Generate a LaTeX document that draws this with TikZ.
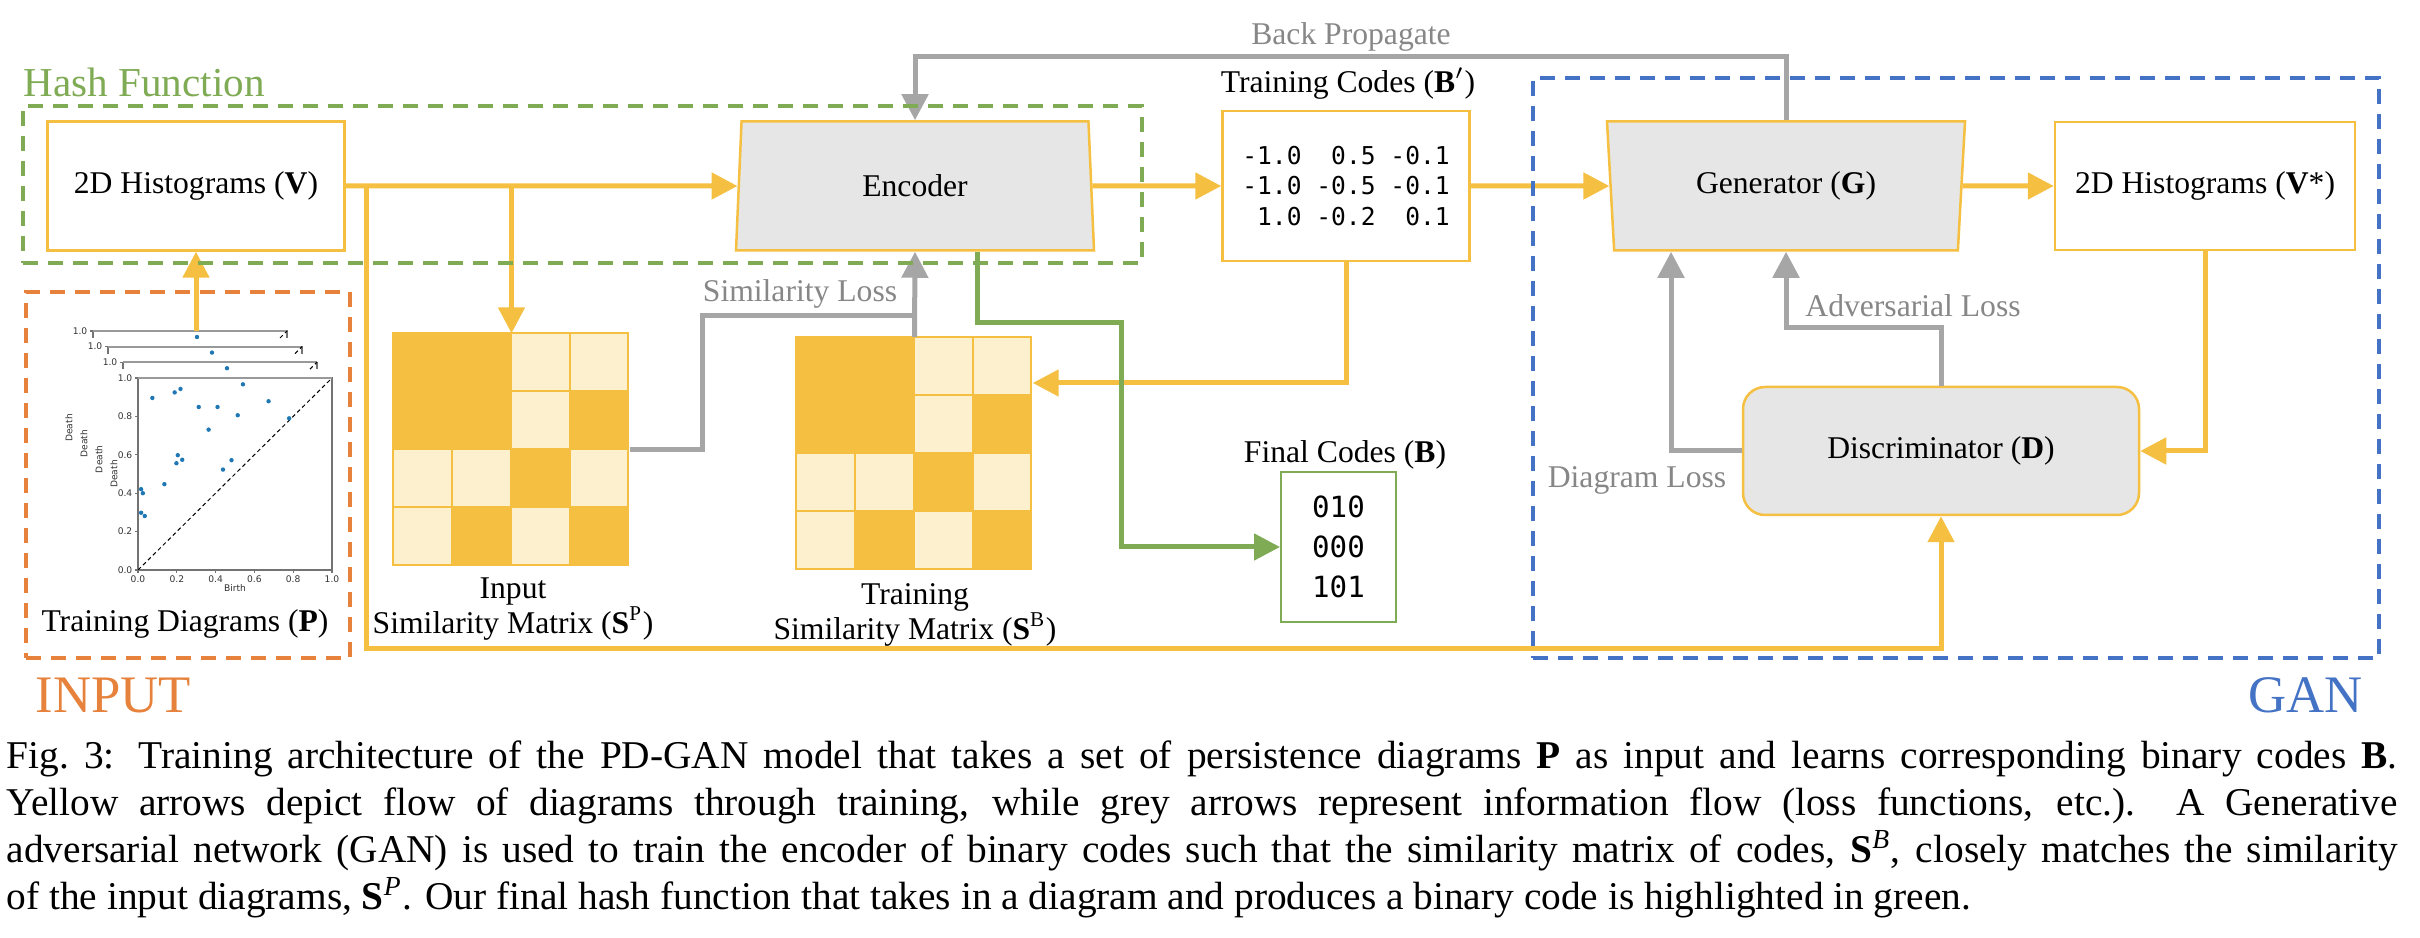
\documentclass[tikz,border=0pt]{standalone}
\usepackage{fontspec}
\setmainfont{Liberation Serif}
\newfontfamily\codefont{DejaVu Sans Mono}
\newfontfamily\plotfont{DejaVu Sans}
\newcommand\simcells{flowyellow,flowyellow,cellpale,cellpale,flowyellow,flowyellow,cellpale,flowyellow,cellpale,cellpale,flowyellow,cellpale,cellpale,flowyellow,cellpale,flowyellow}
\usetikzlibrary{arrows.meta,shapes.geometric}
\definecolor{flowyellow}{RGB}{245,192,66}
\definecolor{cellpale}{RGB}{252,240,206}
\definecolor{lossgrey}{RGB}{166,166,166}
\definecolor{losstext}{RGB}{135,135,135}
\definecolor{hashgreen}{RGB}{127,171,85}
\definecolor{inputorange}{RGB}{230,130,60}
\definecolor{ganblue}{RGB}{68,114,196}
\definecolor{netgrey}{RGB}{230,230,230}
\definecolor{dotblue}{RGB}{31,119,180}
\begin{document}
\begin{tikzpicture}[x=0.1mm, y=-0.1mm,
    lbl/.style={font=\fontsize{9}{10}\selectfont, inner sep=0pt},
    losslbl/.style={lbl, text=losstext},
    grouplbl/.style={font=\fontsize{15}{17}\selectfont, inner sep=0pt},
    databox/.style={draw=flowyellow, line width=0.25mm, fill=white, lbl},
    netbox/.style={trapezium, trapezium stretches body, draw=flowyellow, line width=0.25mm,
      fill=netgrey, minimum width=35.8mm, minimum height=12.9mm, lbl},
    groupbox/.style={line width=0.4mm, dash pattern=on 1.5mm off 1mm, inner sep=0pt},
    flow/.style={draw=flowyellow, line width=0.5mm, -{Triangle[length=2.6mm,width=2.6mm]}},
    loss/.style={draw=lossgrey, line width=0.5mm, -{Triangle[length=2.6mm,width=2.6mm]}},
    lossline/.style={draw=lossgrey, line width=0.5mm},
    hash/.style={draw=hashgreen, line width=0.5mm, -{Triangle[length=2.6mm,width=2.6mm]}},
    plotframe/.style={draw=black!55, line width=0.12mm},
    plottick/.style={font=\plotfont\fontsize{2.6}{3}\selectfont, inner sep=0.2mm, text=black!80},
    figcaption/.style={text width=239.1mm, align=justify, inner sep=0pt,
      font={\fontsize{11.2}{13.4}\selectfont}}
  ]
    \useasboundingbox (0,0) rectangle (2420,938);
    \fill[white] (0,0) rectangle (2420,938);

    % persistence diagrams, stacked
    \foreach \i in {0,1,2}{
      \pgfmathsetmacro\plx{93+15*\i}
      \pgfmathsetmacro\ply{331+15.6*\i}
      \draw[plotframe] (\plx,\ply+7) -- (\plx,\ply) -- (\plx+194,\ply) -- (\plx+194,\ply+7);
      \draw[black!40, line width=0.2mm] (\plx,\ply) -- (\plx+194,\ply);
      \draw[plotframe] (\plx-3,\ply) -- (\plx,\ply);
      \node[plottick, anchor=east] (backtick\i) at (\plx-3,\ply) {1.0};
      \draw[black, line width=0.1mm, dash pattern=on 0.4mm off 0.3mm] (\plx+187,\ply+7) -- (\plx+194,\ply);
      \fill[dotblue] (\plx+104,\ply+6) circle[radius=0.22mm];
      \node[plottick, rotate=90] (backdeath\i) at (\plx-24,\ply+97) {Death};
    }
    \draw[plotframe] (138,378) rectangle (332,570);
    \draw[black!40, line width=0.2mm] (138,378) -- (332,378);
    \draw[black, line width=0.1mm, dash pattern=on 0.4mm off 0.3mm] (138,570) -- (332,378);
    \foreach \t/\tl in {0/0.0,1/0.2,2/0.4,3/0.6,4/0.8,5/1.0}{
      \draw[plotframe] (135,570-38.4*\t) -- (138,570-38.4*\t);
      \node[plottick, anchor=east] (ytick\t) at (135,570-38.4*\t) {\tl};
      \draw[plotframe] (138+38.8*\t,570) -- (138+38.8*\t,573);
      \node[plottick, anchor=north] (xtick\t) at (138+38.8*\t,573) {\tl};
    }
    \node[plottick] (birth) at (235,588) {Birth};
    \node[plottick, rotate=90] (death) at (114,474) {Death};
    \foreach \b/\d in {0.074/0.896,0.189/0.925,0.219/0.943,0.313/0.849,0.41/0.849,
        0.541/0.967,0.514/0.806,0.673/0.879,0.779/0.79,0.364/0.731,0.205/0.598,
        0.198/0.556,0.228/0.574,0.482/0.572,0.438/0.523,0.136/0.447,0.016/0.421,
        0.025/0.4,0.016/0.298,0.035/0.281}
      \fill[dotblue] (138+194*\b,570-192*\d) circle[radius=0.22mm];
    \coordinate (stacktop) at (196,331);
    \node[lbl, anchor=base] (pdlbl) at (185,632) {Training Diagrams (\textbf{P})};

    % hash function
    \node[databox, minimum width=29.7mm, minimum height=12.9mm] (hist) at (196,186) {2D Histograms (\textbf{V})};
    \node[netbox, trapezium left angle=76, trapezium right angle=76] (enc) at (915,186) {Encoder};
    \node[databox, minimum width=24.7mm, minimum height=15mm, align=left,
      font=\codefont\fontsize{7}{8.6}\selectfont] (tcodes) at (1346,186)
      {-1.0 \phantom{-}0.5 -0.1\\-1.0 -0.5 -0.1\\\phantom{-}1.0 -0.2 \phantom{-}0.1};
    \node[lbl, anchor=base] (tclbl) at (1348,93) {Training Codes (\textbf{B$'$})};
    \node[draw=hashgreen, line width=0.2mm, fill=white, minimum width=11.5mm, minimum height=15mm,
      align=center, font=\codefont\fontsize{8.3}{11.4}\selectfont] (fcodes) at (1338.5,547) {010\\000\\101};
    \node[lbl, anchor=base] (fclbl) at (1345,463) {Final Codes (\textbf{B})};

    % similarity matrices
    \node[minimum width=23.5mm, minimum height=23.2mm, inner sep=0pt] (smatP) at (511.5,450) {};
    \node[minimum width=23.5mm, minimum height=23.2mm, inner sep=0pt] (smatB) at (914.5,453.5) {};
    \foreach \m in {smatP,smatB}
      \foreach \fillc [count=\k from 0] in \simcells {
        \pgfmathtruncatemacro\cx{mod(\k,4)}
        \pgfmathtruncatemacro\cy{div(\k,4)}
        \draw[draw=flowyellow, line width=0.2mm, fill=\fillc]
          ([shift={(\cx*58.75,\cy*58)}]\m.north west) rectangle ++(58.75,58);
      }
    \node[lbl, align=center, anchor=north] (smatPlbl) at (513,577) {Input\\Similarity Matrix (\textbf{S}\textsuperscript{P})};
    \node[lbl, align=center, anchor=north] (smatBlbl) at (915,583) {Training\\Similarity Matrix (\textbf{S}\textsuperscript{B})};

    % GAN
    \node[netbox, trapezium left angle=104, trapezium right angle=104] (gen) at (1786,186) {Generator (\textbf{G})};
    \node[databox, minimum width=30mm, minimum height=12.8mm] (vstar) at (2205,186) {2D Histograms (\textbf{V}*)};
    \node[draw=flowyellow, line width=0.25mm, fill=netgrey, rounded corners=2.2mm, lbl,
      minimum width=39.6mm, minimum height=12.8mm] (disc) at (1941,451) {Discriminator (\textbf{D})};

    % yellow flow
    \draw[flow] (stacktop) -- (hist.south);
    \draw[flow] (hist) -- (enc);
    \draw[flow] (hist.east -| smatP.north) -- (smatP.north);
    \draw[flow] ([xshift=2.05mm]hist.east) -- ++(0,463) -| (disc.south);
    \draw[flow] (enc) -- (tcodes);
    \draw[flow] (tcodes.south) |- ([yshift=7.05mm]smatB.east);
    \draw[flow] (tcodes) -- (gen);
    \draw[flow] (gen) -- (vstar);
    \draw[flow] (vstar.south) |- (disc.east);

    % grey losses
    \coordinate (simjoin) at (914.5,316);
    \draw[lossline] (smatP.east) -- ++(73,0) |- (simjoin);
    \draw[loss] (smatB.north) -- (enc.south);
    \draw[loss] (gen.north) -- ++(0,-64) -| (enc.north);
    \draw[loss] (disc.north) -- ++(0,-58) -| (gen.south);
    \draw[loss] (disc.west) -| ([xshift=-11.5mm]gen.south);
    \node[losslbl, anchor=base] (bplbl) at (1351,45) {Back Propagate};
    \node[losslbl, anchor=base] (sllbl) at (800,302) {Similarity Loss};
    \node[losslbl, anchor=base] (allbl) at (1913,317) {Adversarial Loss};
    \node[losslbl, anchor=base] (dllbl) at (1637,488) {Diagram Loss};

    % green hash output
    \draw[hash] ([xshift=6.2mm]enc.south) |- ++(144,71) |- (fcodes.west);

    % groups
    \node[groupbox, draw=hashgreen, minimum width=111.9mm, minimum height=15.7mm] (hashgrp) at (582.5,184.5) {};
    \node[groupbox, draw=inputorange, minimum width=32.4mm, minimum height=36.6mm] (inputgrp) at (188,475) {};
    \node[groupbox, draw=ganblue, minimum width=84.6mm, minimum height=58mm] (gangrp) at (1956,368) {};
    \node[grouplbl, font=\fontsize{11.7}{14}\selectfont, text=hashgreen, anchor=base west] (hashlbl) at (23,97) {Hash Function};
    \node[grouplbl, text=inputorange, anchor=base west] (inputlbl) at (35,712) {INPUT};
    \node[grouplbl, text=ganblue, anchor=base east] (ganlbl) at (2363,712) {GAN};

    \node[figcaption, anchor=north west] (figcap) at (6,740) {Fig.~3: Training architecture of the PD-GAN model that takes a set of persistence diagrams \textbf{P} as input and learns corresponding binary codes \textbf{B}.\linebreak
      Yellow arrows depict flow of diagrams through training, while grey arrows represent information flow (loss functions, etc.).\ \ A Generative\linebreak
      adversarial network (GAN) is used to train the encoder of binary codes such that the similarity matrix of codes, \textbf{S}\textsuperscript{\textit{B}}, closely matches the similarity\linebreak
      of the input diagrams, \textbf{S}\textsuperscript{\textit{P}}. Our final hash function that takes in a diagram and produces a binary code is highlighted in green.};
  \end{tikzpicture}
\end{document}
